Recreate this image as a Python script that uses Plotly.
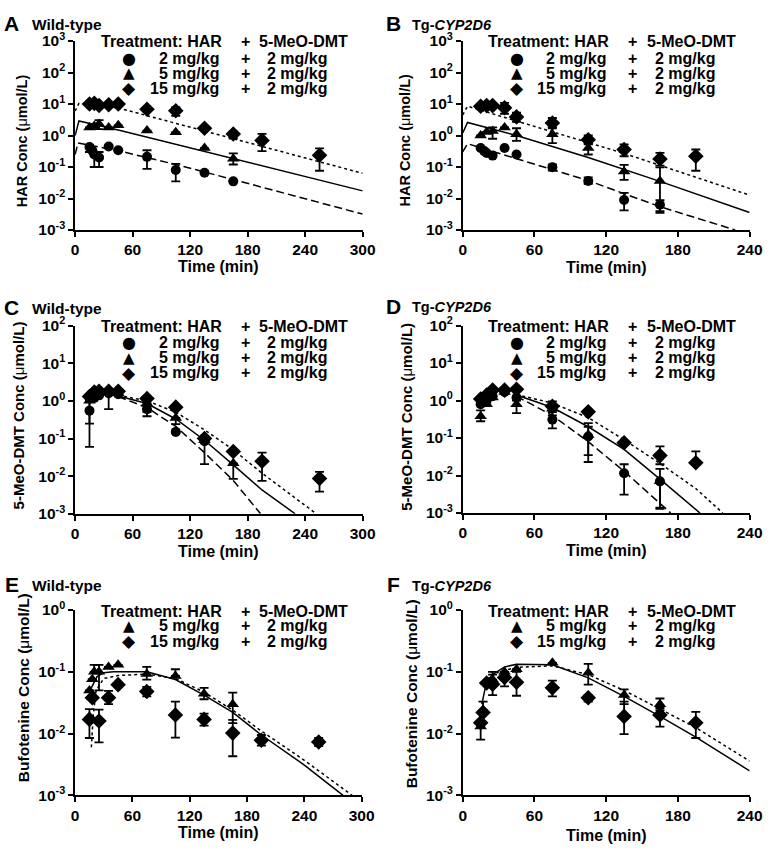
import plotly.graph_objects as go

W, H = 776, 852

# ======================= DATA =======================
TICKS_300 = [0, 60, 120, 180, 240, 300]
TICKS_240 = [0, 60, 120, 180, 240]
LEGEND_DMT_DOSE = "2 mg/kg"

# ---- Panel A: HAR, wild-type ----
A_t_2 = [15, 18, 20, 25, 35, 45, 75, 105, 135, 165]
A_c_2 = [0.43, 0.33, 0.25, 0.20, 0.45, 0.34, 0.21, 0.080, 0.066, 0.035]
A_hi_2 = [0.50, 0.33, 0.25, 0.30, 0.45, 0.34, 0.34, 0.126, 0.066, 0.035]
A_lo_2 = [0.30, 0.33, 0.10, 0.10, 0.45, 0.34, 0.087, 0.035, 0.066, 0.035]
A_t_5 = [15, 20, 25, 35, 45, 75, 105, 135, 165]
A_c_5 = [1.8, 2.0, 2.3, 1.8, 2.1, 1.43, 1.27, 0.40, 0.184]
A_hi_5 = [1.8, 2.0, 3.1, 1.8, 2.1, 1.43, 1.27, 0.40, 0.27]
A_lo_5 = [1.8, 2.0, 1.6, 1.8, 2.1, 1.43, 1.27, 0.40, 0.12]
A_t_15 = [15, 20, 25, 35, 45, 75, 105, 135, 165, 195, 255]
A_c_15 = [10.0, 10.5, 9.0, 9.5, 10.0, 6.8, 6.1, 1.7, 1.12, 0.70, 0.235]
A_hi_15 = [10.0, 10.5, 9.0, 9.5, 10.0, 6.8, 8.0, 1.7, 1.33, 1.13, 0.39]
A_lo_15 = [10.0, 10.5, 9.0, 9.5, 10.0, 6.8, 4.2, 1.7, 0.80, 0.32, 0.076]
A_fit_t_2 = [0, 3, 45, 105, 165, 300]
A_fit_2 = [0.25, 0.58, 0.33, 0.12, 0.040, 0.0032]
A_fit_t_5 = [0, 4, 45, 300]
A_fit_5 = [1.0, 2.9, 1.5, 0.0175]
A_fit_t_15 = [0, 4, 45, 300]
A_fit_15 = [6.0, 10.5, 7.5, 0.063]

# ---- Panel B: HAR, Tg-CYP2D6 ----
B_t_2 = [15, 18, 20, 25, 35, 45, 75, 105, 135, 165]
B_c_2 = [0.40, 0.32, 0.28, 0.23, 0.40, 0.25, 0.098, 0.036, 0.0090, 0.0063]
B_hi_2 = [0.40, 0.32, 0.28, 0.23, 0.40, 0.25, 0.12, 0.047, 0.015, 0.0089]
B_lo_2 = [0.40, 0.32, 0.28, 0.23, 0.40, 0.25, 0.077, 0.029, 0.0042, 0.0035]
B_t_5 = [15, 20, 25, 35, 45, 75, 105, 135, 165]
B_c_5 = [1.0, 1.3, 1.4, 1.8, 1.1, 1.1, 0.40, 0.072, 0.036]
B_hi_5 = [1.0, 1.3, 1.8, 1.8, 1.7, 1.7, 0.57, 0.117, 0.097]
B_lo_5 = [1.0, 1.3, 0.79, 1.8, 0.68, 0.57, 0.25, 0.039, 0.0040]
B_t_15 = [15, 20, 25, 35, 45, 75, 105, 135, 165, 195]
B_c_15 = [8.5, 8.9, 8.9, 7.6, 3.9, 2.5, 0.73, 0.36, 0.18, 0.22]
B_hi_15 = [8.5, 8.9, 8.9, 10.8, 5.3, 3.6, 1.0, 0.52, 0.28, 0.36]
B_lo_15 = [8.5, 8.9, 8.9, 4.9, 2.7, 1.8, 0.52, 0.22, 0.11, 0.076]
B_fit_t_2 = [0, 4, 105, 165, 228]
B_fit_2 = [0.30, 0.55, 0.037, 0.0055, 0.001]
B_fit_t_5 = [0, 4, 45, 105, 165, 240]
B_fit_5 = [1.2, 2.6, 1.0, 0.20, 0.035, 0.0036]
B_fit_t_15 = [0, 4, 135, 240]
B_fit_15 = [4.5, 8.5, 0.27, 0.0128]

# ---- Panel C: 5-MeO-DMT, wild-type ----
C_t_2 = [15, 20, 25, 35, 45, 75, 105, 135]
C_c_2 = [0.55, 1.2, 1.4, 1.6, 1.5, 0.60, 0.15, 0.085]
C_hi_2 = [1.0, 1.2, 1.4, 1.6, 1.5, 0.60, 0.15, 0.12]
C_lo_2 = [0.06, 1.2, 1.4, 0.60, 1.5, 0.39, 0.14, 0.021]
C_t_5 = [15, 20, 25, 35, 45, 75, 105, 135, 165]
C_c_5 = [1.0, 1.5, 1.7, 1.7, 1.6, 0.85, 0.35, 0.090, 0.022]
C_hi_5 = [1.0, 1.5, 1.7, 1.7, 1.6, 0.85, 0.35, 0.090, 0.022]
C_lo_5 = [0.25, 1.5, 1.7, 1.7, 1.6, 0.50, 0.24, 0.090, 0.0085]
C_t_15 = [15, 20, 25, 35, 45, 75, 105, 135, 165, 195, 255]
C_c_15 = [1.3, 1.7, 1.8, 1.8, 1.8, 1.15, 0.68, 0.10, 0.045, 0.025, 0.0087]
C_hi_15 = [1.3, 1.7, 1.8, 1.8, 1.8, 1.15, 0.68, 0.10, 0.045, 0.042, 0.013]
C_lo_15 = [1.3, 1.7, 1.8, 1.8, 1.8, 1.15, 0.68, 0.10, 0.045, 0.0075, 0.0039]
C_fit_t_2 = [45, 75, 105, 135, 165, 193.5]
C_fit_2 = [1.3, 0.66, 0.21, 0.042, 0.0077, 0.001]
C_fit_t_5 = [45, 75, 105, 135, 165, 195, 229.6]
C_fit_5 = [1.35, 0.85, 0.33, 0.090, 0.020, 0.0043, 0.001]
C_fit_t_15 = [45, 75, 105, 135, 165, 195, 251.7]
C_fit_15 = [1.4, 1.0, 0.50, 0.17, 0.050, 0.012, 0.001]

# ---- Panel D: 5-MeO-DMT, Tg-CYP2D6 ----
D_t_2 = [15, 20, 25, 35, 45, 75, 105, 135, 165]
D_c_2 = [0.80, 1.0, 1.3, 1.7, 1.2, 0.31, 0.11, 0.0115, 0.0070]
D_hi_2 = [0.80, 1.0, 1.3, 1.7, 1.2, 0.49, 0.20, 0.020, 0.0070]
D_lo_2 = [0.80, 1.0, 1.3, 1.7, 1.2, 0.18, 0.023, 0.0031, 0.0013]
D_t_5 = [15, 20, 25, 35, 45, 75, 105, 165]
D_c_5 = [0.38, 0.80, 1.2, 1.7, 0.80, 0.60, 0.12, 0.0070]
D_hi_5 = [0.55, 0.80, 1.2, 1.7, 1.0, 0.95, 0.25, 0.015]
D_lo_5 = [0.28, 0.80, 1.2, 1.7, 0.46, 0.40, 0.035, 0.0014]
D_t_15 = [15, 20, 25, 35, 45, 75, 105, 135, 165, 195]
D_c_15 = [1.1, 1.4, 1.9, 1.9, 2.0, 0.70, 0.50, 0.075, 0.034, 0.022]
D_hi_15 = [1.1, 1.4, 1.9, 1.9, 2.0, 0.70, 0.50, 0.075, 0.060, 0.044]
D_lo_15 = [1.1, 1.4, 1.9, 1.9, 2.0, 0.70, 0.50, 0.075, 0.020, 0.022]
D_fit_t_2 = [45, 75, 105, 135, 174]
D_fit_2 = [1.3, 0.40, 0.080, 0.013, 0.001]
D_fit_t_5 = [45, 75, 105, 135, 165, 198.5]
D_fit_5 = [1.4, 0.65, 0.20, 0.050, 0.0080, 0.001]
D_fit_t_15 = [45, 75, 105, 135, 165, 195, 217.6]
D_fit_15 = [1.45, 0.85, 0.35, 0.090, 0.021, 0.0045, 0.001]

# ---- Panel E: Bufotenine, wild-type ----
E_t_5 = [15, 18, 20, 25, 35, 45, 75, 105, 135, 165]
E_c_5 = [0.050, 0.076, 0.10, 0.10, 0.12, 0.13, 0.092, 0.086, 0.044, 0.030]
E_hi_5 = [0.050, 0.076, 0.13, 0.13, 0.12, 0.13, 0.12, 0.11, 0.055, 0.046]
E_lo_5 = [0.050, 0.076, 0.10, 0.050, 0.12, 0.13, 0.075, 0.086, 0.036, 0.0148]
E_t_15 = [15, 18, 25, 35, 45, 75, 105, 135, 165, 195, 255]
E_c_15 = [0.017, 0.038, 0.016, 0.038, 0.062, 0.048, 0.020, 0.017, 0.0102, 0.0078, 0.0073]
E_hi_15 = [0.025, 0.038, 0.0245, 0.049, 0.062, 0.057, 0.033, 0.021, 0.0167, 0.0095, 0.0085]
E_lo_15 = [0.0085, 0.038, 0.0072, 0.030, 0.062, 0.040, 0.0086, 0.0135, 0.0043, 0.0064, 0.0063]
E_fit_t_5 = [17, 23, 30, 40, 75, 105, 135, 165, 195, 240, 280.5]
E_fit_5 = [0.055, 0.084, 0.097, 0.10, 0.10, 0.075, 0.042, 0.022, 0.0095, 0.0031, 0.001]
E_fit_t_15 = [17, 19, 22, 30, 45, 75, 105, 135, 165, 195, 240, 290]
E_fit_15 = [0.006, 0.020, 0.050, 0.078, 0.087, 0.092, 0.078, 0.047, 0.024, 0.011, 0.0037, 0.001]

# ---- Panel F: Bufotenine, Tg-CYP2D6 ----
F_t_5 = [15, 17, 20, 25, 35, 45, 75, 105, 135, 165]
F_c_5 = [0.013, 0.024, 0.068, 0.075, 0.10, 0.11, 0.14, 0.097, 0.042, 0.030]
F_hi_5 = [0.013, 0.033, 0.068, 0.10, 0.10, 0.11, 0.14, 0.135, 0.052, 0.037]
F_lo_5 = [0.0080, 0.024, 0.068, 0.075, 0.10, 0.11, 0.14, 0.062, 0.030, 0.024]
F_t_15 = [15, 17, 20, 25, 35, 45, 75, 105, 135, 165, 195]
F_c_15 = [0.015, 0.022, 0.066, 0.063, 0.081, 0.068, 0.055, 0.038, 0.019, 0.020, 0.015]
F_hi_15 = [0.015, 0.022, 0.066, 0.090, 0.10, 0.10, 0.072, 0.042, 0.033, 0.026, 0.0225]
F_lo_15 = [0.015, 0.022, 0.066, 0.042, 0.058, 0.041, 0.040, 0.033, 0.0098, 0.013, 0.0085]
F_fit_t_5 = [16, 20, 25, 35, 45, 75, 105, 135, 165, 195, 240]
F_fit_5 = [0.030, 0.070, 0.090, 0.12, 0.133, 0.13, 0.080, 0.040, 0.019, 0.0088, 0.0025]
F_fit_t_15 = [20, 30, 45, 75, 105, 135, 165, 195, 240]
F_fit_15 = [0.075, 0.10, 0.118, 0.125, 0.090, 0.050, 0.025, 0.0125, 0.0036]

# ======================= STYLE / LAYOUT =======================
FONT = "Liberation Sans, Arial, Helvetica, sans-serif"
SYM_FONT = "DejaVu Sans, sans-serif"
TXT = 16
TICK_TXT = 15.5
DOSE_STYLE = {
    "2": dict(symbol="circle", size=10, dash="8px,4px", glyph="\u25CF", gsize=16),
    "5": dict(symbol="triangle-up", size=11, dash="solid", glyph="\u25B2", gsize=15),
    "15": dict(symbol="diamond", size=12, dash="3px,3px", glyph="\u25C6", gsize=17),
}


def xp(px):
    return px / W


def yp(py):
    return 1 - py / H


PANELS = [
    dict(key="A", doses=["2", "5", "15"], x0=72.7, x1=366.7, top=30.7, bot=224.0,
         xmax=300, ymin=-3, ymax=3, ylabel="HAR Conc", ysize=14.5, ytx=18, yty=132.5,
         xtitle_dy=37, label="A", sub="Wild-type", lab_x=8, sub_x=27, lab_y=13),
    dict(key="B", doses=["2", "5", "15"], x0=469.0, x1=762.3, top=30.7, bot=224.0,
         xmax=240, ymin=-3, ymax=3, ylabel="HAR Conc", ysize=14.5, ytx=410, yty=132.5,
         xtitle_dy=38, label="B", sub="Tg-<i>CYP2D6</i>", lab_x=398, sub_x=415, lab_y=13),
    dict(key="C", doses=["2", "5", "15"], x0=72.7, x1=366.7, top=321.7, bot=514.3,
         xmax=300, ymin=-3, ymax=2, ylabel="5-MeO-DMT Conc", ysize=15, ytx=15, yty=414,
         xtitle_dy=39, label="C", sub="Wild-type", lab_x=8, sub_x=27, lab_y=303),
    dict(key="D", doses=["2", "5", "15"], x0=469.0, x1=762.3, top=321.7, bot=513.5,
         xmax=240, ymin=-3, ymax=2, ylabel="5-MeO-DMT Conc", ysize=15, ytx=412, yty=415,
         xtitle_dy=38.5, label="D", sub="Tg-<i>CYP2D6</i>", lab_x=398, sub_x=415, lab_y=302),
    dict(key="E", doses=["5", "15"], x0=72.7, x1=365.7, top=612.7, bot=802.3,
         xmax=300, ymin=-3, ymax=0, ylabel="Bufotenine Conc", ysize=15.5, ytx=20, yty=692,
         xtitle_dy=38, label="E", sub="Wild-type", lab_x=8, sub_x=27, lab_y=587),
    dict(key="F", doses=["5", "15"], x0=469.0, x1=762.3, top=612.7, bot=802.3,
         xmax=240, ymin=-3, ymax=0, ylabel="Bufotenine Conc", ysize=15.5, ytx=417, yty=698,
         xtitle_dy=41, label="F", sub="Tg-<i>CYP2D6</i>", lab_x=398, sub_x=415, lab_y=587),
]

G = globals()
fig = go.Figure()
annotations = []
layout_axes = {}


def ann(x, y, text, size, xanchor="center", family=FONT, angle=0, weight="bold"):
    annotations.append(dict(
        x=xp(x), y=yp(y), xref="paper", yref="paper", text=text, showarrow=False,
        xanchor=xanchor, yanchor="middle", textangle=angle,
        font=dict(family=family, size=size, color="black", weight=weight)))


for i, p in enumerate(PANELS, start=1):
    k = p["key"]
    xa = "x" if i == 1 else f"x{i}"
    ya = "y" if i == 1 else f"y{i}"

    # model fits (lines)
    for d in p["doses"]:
        st = DOSE_STYLE[d]
        fig.add_trace(go.Scatter(
            x=G[f"{k}_fit_t_{d}"], y=G[f"{k}_fit_{d}"], mode="lines",
            line=dict(color="black", width=1.5, dash=st["dash"]),
            xaxis=xa, yaxis=ya, showlegend=False, hoverinfo="skip"))
    # observations
    for d in p["doses"]:
        st = DOSE_STYLE[d]
        c = G[f"{k}_c_{d}"]
        hi = G[f"{k}_hi_{d}"]
        lo = G[f"{k}_lo_{d}"]
        fig.add_trace(go.Scatter(
            x=G[f"{k}_t_{d}"], y=c, mode="markers",
            marker=dict(symbol=st["symbol"], size=st["size"], color="black",
                        line=dict(width=0)),
            error_y=dict(type="data", symmetric=False,
                         array=[h - v for h, v in zip(hi, c)],
                         arrayminus=[v - l for v, l in zip(c, lo)],
                         color="black", thickness=1.8, width=4.5),
            xaxis=xa, yaxis=ya, showlegend=False))

    xt = TICKS_300 if p["xmax"] == 300 else TICKS_240
    layout_axes["xaxis" if i == 1 else f"xaxis{i}"] = dict(
        domain=[xp(p["x0"]), xp(p["x1"])], range=[0, p["xmax"]], anchor=ya,
        tickvals=xt, ticktext=[str(v) for v in xt],
        showline=True, linecolor="black", linewidth=1.6, mirror=False,
        ticks="outside", ticklen=5, tickwidth=1.6, tickcolor="black",
        tickfont=dict(family=FONT, size=TICK_TXT, color="black", weight="bold"),
        showgrid=False, zeroline=False)
    yt = list(range(p["ymin"], p["ymax"] + 1))
    layout_axes["yaxis" if i == 1 else f"yaxis{i}"] = dict(
        domain=[yp(p["bot"]), yp(p["top"])], type="log", range=[p["ymin"], p["ymax"]],
        anchor=xa, tickvals=[10.0 ** e for e in yt],
        ticktext=[f"10<sup>{e}</sup>" for e in yt],
        showline=True, linecolor="black", linewidth=1.6,
        ticks="outside", ticklen=5, tickwidth=1.6, tickcolor="black",
        tickfont=dict(family=FONT, size=TICK_TXT, color="black", weight="bold"),
        showgrid=False, zeroline=False)

    # panel label
    ann(p["lab_x"], p["lab_y"], p["label"], 21)
    ann(p["sub_x"], p["lab_y"] + 1, p["sub"], 15.5 if k in "ACE" else 14.5, xanchor="left")
    # axis titles
    ann((p["x0"] + p["x1"]) / 2, p["bot"] + p["xtitle_dy"], "Time (min)", TXT)
    ann(p["ytx"], p["yty"],
        p["ylabel"] + " (<span style='font-weight:normal'>\u03bc</span>mol/L)",
        p["ysize"], angle=-90)
    # legend block
    x0 = p["x0"]
    ann(x0 + 24, p["top"] + 1, "Treatment: HAR", TXT, xanchor="left")
    ann(x0 + 174, p["top"] + 1, "+", TXT)
    ann(x0 + 186, p["top"] + 1, "5-MeO-DMT", TXT, xanchor="left")
    row_dy = [17.5, 32.8, 48.5] if len(p["doses"]) == 3 else [16, 32]
    for d, dy in zip(p["doses"], row_dy):
        st = DOSE_STYLE[d]
        yy = p["top"] + dy
        ann(x0 + 55, yy, st["glyph"], st["gsize"], family=SYM_FONT)
        ann(x0 + 149, yy, f"{d} mg/kg", TXT, xanchor="right")
        ann(x0 + 174, yy, "+", TXT)
        ann(x0 + 227, yy, LEGEND_DMT_DOSE, TXT)

fig.update_layout(
    width=W, height=H, margin=dict(l=0, r=0, t=0, b=0),
    paper_bgcolor="white", plot_bgcolor="white",
    showlegend=False, annotations=annotations,
    font=dict(family=FONT, color="black"),
    **layout_axes)

fig.write_html(
    "out.html",
    config={"displayModeBar": False},
    post_script="document.body.style.margin='0px';document.body.style.overflow='hidden';"
                "document.documentElement.style.overflow='hidden';",
)
